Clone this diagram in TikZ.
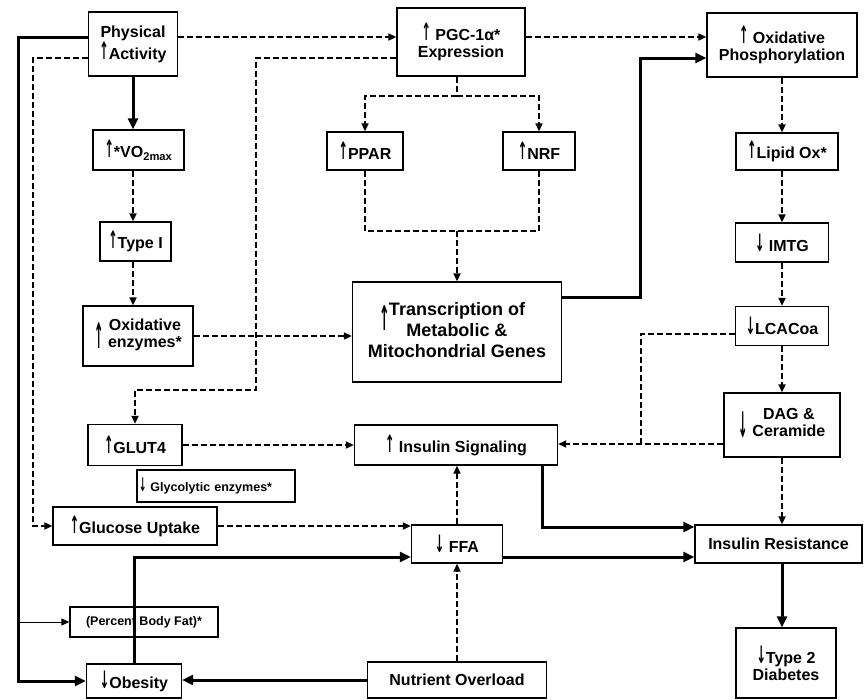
\documentclass[tikz,border=0pt]{standalone}
\usepackage{fontspec}
\setmainfont{Liberation Sans}
\newfontfamily\arrowfont{DejaVu Sans}
\usetikzlibrary{arrows.meta}

\newcommand{\upar}[1][1.5]{{\arrowfont\scalebox{0.7}[#1]{↑}}}
\newcommand{\dnar}[1][1.5]{{\arrowfont\scalebox{0.7}[#1]{↓}}}
\newcommand{\bigup}{$\vcenter{\hbox{\upar[2.2]}}$}
\newcommand{\bigdn}{$\vcenter{\hbox{\dnar[2.2]}}$}

\begin{document}
\begin{tikzpicture}[x=1pt,y=-1pt,
    box/.style={draw, line width=1.4pt, inner sep=1pt, align=center,
      font=\bfseries\fontsize{16}{17}\selectfont},
    smallbox/.style={box, font=\bfseries\fontsize{12.5}{14}\selectfont},
    solidarrow/.style={line width=3pt, -{Triangle[length=11pt,width=10pt]}},
    thinarrow/.style={line width=1pt, -{Triangle[length=8pt,width=7pt]}},
    dashline/.style={line width=2pt, dash pattern=on 6pt off 3pt},
    dasharrow/.style={dashline, -{Triangle[length=8pt,width=7pt]}}]
  \useasboundingbox (0,0) rectangle (865,699);

  % left column
  \node[box, minimum width=89, minimum height=64] (pa) at (133,44) {Physical\\\upar Activity};
  \node[box, minimum width=91, minimum height=40] (vo2) at (138.5,150) {\upar*VO\textsubscript{2max}};
  \node[box, minimum width=71, minimum height=39] (type1) at (135.5,241.5) {\upar Type I};
  \node[box, minimum width=110, minimum height=60] (oxenz) at (138,336) {\bigup\ \begin{tabular}{@{}c@{}}Oxidative\\enzymes*\end{tabular}};
  \node[box, minimum width=94, minimum height=41] (glut) at (135,445) {\upar GLUT4};
  \node[smallbox, text width=154, align=left, inner xsep=2, minimum height=32] (glyc) at (216,486) {\dnar\ Glycolytic enzymes*};
  \node[box, minimum width=164, minimum height=38] (gluc) at (135,526) {\upar Glucose Uptake};
  \node[smallbox, minimum width=148, minimum height=30] (fat) at (144,622) {(Percent Body Fat)*};
  \node[box, minimum width=95, minimum height=34] (obes) at (134,681) {\dnar Obesity};

  % middle column
  \node[box, minimum width=128, minimum height=68] (pgc) at (461,42) {\upar\ PGC-1α*\\Expression};
  \node[box, minimum width=76, minimum height=38] (ppar) at (365,151) {\upar PPAR};
  \node[box, minimum width=72, minimum height=38] (nrf) at (539,151) {\upar NRF};
  \node[box, minimum width=209, minimum height=100, font=\bfseries\fontsize{18}{21}\selectfont] (trans) at (457,332)
    {\begin{tabular}{@{}c@{}}Transcription of\\\llap{\smash{\raisebox{6pt}{\upar[1.9]}}\hspace{16pt}}Metabolic \&\\Mitochondrial Genes\end{tabular}};
  \node[box, minimum width=203, minimum height=40] (inssig) at (456,445) {\upar\ Insulin Signaling};
  \node[box, minimum width=91, minimum height=38] (ffa) at (457,544) {\dnar\ FFA};
  \node[box, minimum width=179, minimum height=36] (nutr) at (457,680) {Nutrient Overload};

  % right column
  \node[box, minimum width=150, minimum height=64] (oxphos) at (782,45) {\upar\ Oxidative\\Phosphorylation};
  \node[box, minimum width=102, minimum height=37] (lipid) at (787,151.5) {\upar Lipid Ox*};
  \node[box, minimum width=93, minimum height=39] (imtg) at (782,242.5) {\dnar\ IMTG};
  \node[box, minimum width=93, minimum height=39] (lcacoa) at (782,326) {\dnar LCACoa};
  \node[box, minimum width=116, minimum height=64] (dag) at (782,425) {\bigdn\ \begin{tabular}{@{}c@{}}DAG \&\\Ceramide\end{tabular}};
  \node[box, minimum width=167, minimum height=38] (insres) at (778.5,544) {Insulin Resistance};
  \node[box, minimum width=100, minimum height=70] (t2d) at (786,663) {\dnar Type 2\\Diabetes};

  % bend points
  \coordinate (paA) at ([yshift=7]pa.east);
  \coordinate (paB) at ([yshift=7]pa.west);
  \coordinate (paC) at ([yshift=-14]pa.west);
  \coordinate (trunkL) at (18,681);
  \coordinate (trunkF) at (18,622);
  \coordinate (dashL) at (33,526);
  \coordinate (pgcA) at ([yshift=5]pgc.east);
  \coordinate (pgcB) at ([yshift=-16]pgc.west);
  \coordinate (pgcDrop) at (256,390);
  \coordinate (pgcSplit) at (457,96);
  \coordinate (merge) at (457,231);
  \coordinate (trA) at ([yshift=35]trans.east);
  \coordinate (trRise) at (640,58);
  \coordinate (lcA) at ([yshift=-8]lcacoa.west);
  \coordinate (dagA) at ([yshift=-19]dag.west);
  \coordinate (join) at (641,444);
  \coordinate (ffaA) at ([yshift=-13]ffa.west);
  \coordinate (ffaB) at ([yshift=-13]ffa.east);
  \coordinate (isA) at ([xshift=86]inssig.south);
  \coordinate (irA) at ([yshift=17]insres.west);

  % physical activity
  \draw[dasharrow] (paA) -- (paA -| pgc.west);
  \draw[solidarrow] (paB) -| (trunkL) -- (obes.west);
  \draw[thinarrow] (trunkF) -- (fat.west);
  \draw[dasharrow] (paC) -| (dashL) -- (gluc.west);
  \draw[solidarrow] (pa.south) -- (pa.south |- vo2.north);
  \draw[dasharrow] (pa.south |- vo2.south) -- (pa.south |- type1.north);
  \draw[dasharrow] (pa.south |- type1.south) -- (pa.south |- oxenz.north);
  \draw[dasharrow] (oxenz.east) -- (oxenz.east -| trans.west);

  % PGC-1a
  \draw[dasharrow] (pgcA) -- (pgcA -| oxphos.west);
  \draw[dasharrow] (pgcB) -| (pgcDrop) -| (glut.north);
  \draw[dashline] (pgcSplit |- pgc.south) -- (pgcSplit);
  \draw[dasharrow] (pgcSplit) -| (ppar.north);
  \draw[dasharrow] (pgcSplit) -| (nrf.north);
  \draw[dashline] (ppar.south) |- (merge);
  \draw[dashline] (nrf.south) |- (merge);
  \draw[dasharrow] (merge) -- (merge |- trans.north);
  \draw[solidarrow] (trA) -| (trRise) -- (trRise -| oxphos.west);

  % lipid side
  \draw[dasharrow] (oxphos.south) -- (oxphos.south |- lipid.north);
  \draw[dasharrow] (imtg.north |- lipid.south) -- (imtg.north);
  \draw[dasharrow] (imtg.south) -- (lcacoa.north);
  \draw[dasharrow] (lcacoa.south) -- (lcacoa.south |- dag.north);
  \draw[dasharrow] (dag.south) -- (dag.south |- insres.north);
  \draw[solidarrow] (dag.south |- insres.south) -- (dag.south |- t2d.north);
  \draw[dashline] (lcA) -| (join);
  \draw[dasharrow] (dagA) -- (dagA -| inssig.east);

  % insulin
  \draw[dasharrow] (glut.east) -- (glut.east -| inssig.west);
  \draw[dasharrow] (gluc.east) -- (gluc.east -| ffa.west);
  \draw[dasharrow] (ffa.north) -- (ffa.north |- inssig.south);
  \draw[dasharrow] (nutr.north) -- (nutr.north |- ffa.south);
  \draw[solidarrow] (nutr.west) -- (nutr.west -| obes.east);
  \draw[solidarrow] (obes.north) |- (ffaA);
  \draw[solidarrow] (ffaB) -- (ffaB -| insres.west);
  \draw[solidarrow] (isA) |- (irA);
\end{tikzpicture}
\end{document}
